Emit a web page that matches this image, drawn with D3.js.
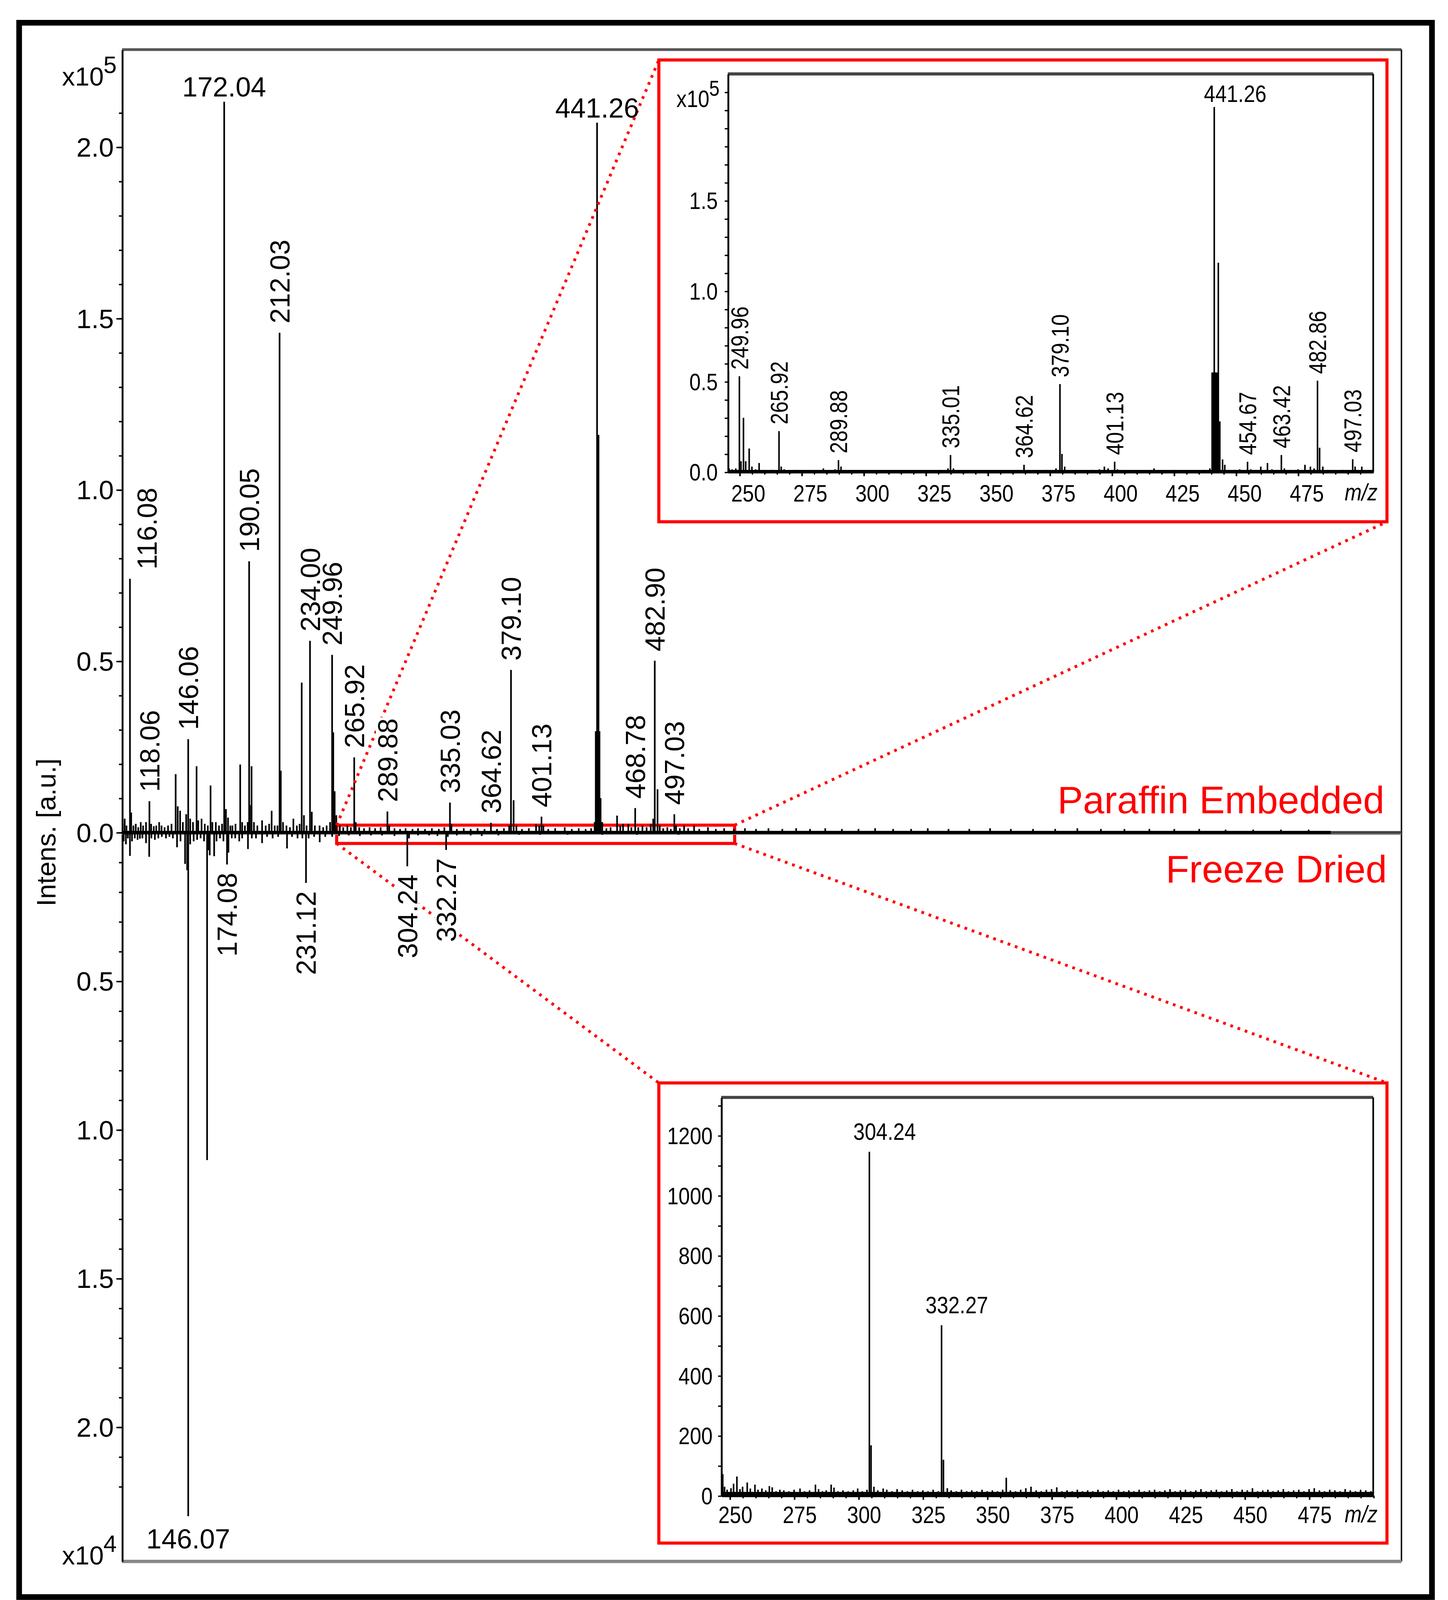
<!DOCTYPE html>
<html>
<head>
<meta charset="utf-8">
<script src="https://cdn.jsdelivr.net/npm/d3@7"></script>
<style>
  html, body { margin: 0; padding: 0; background: #fff; }
  svg { display: block; }
</style>
</head>
<body>
<svg id="fig"></svg>
<script>
// ---- data: main spectrum, paraffin embedded (intensity x10^5) ----
const paraffinPeaks = [
  [98.8,0.025],[100.2,0.04],[101.5,0.02],[104.0,0.74],[104.9,0.058],[106.5,0.02],[108.2,0.025],[110,0.015],
  [111.8,0.03],[113.5,0.02],[115.6,0.03],[118.06,0.091],[119.3,0.025],[121.2,0.018],[123,0.02],[125.1,0.03],
  [126.8,0.02],[129,0.015],[131.5,0.02],[134,0.025],[137.0,0.17],[138.5,0.076],[140.2,0.063],[142.2,0.03],
  [144.6,0.053],[146.06,0.272],[147.5,0.04],[149.5,0.03],[152.1,0.193],[153.3,0.035],[155.7,0.04],[158,0.025],
  [160.2,0.02],[162.2,0.137],[163.5,0.03],[166.0,0.03],[168.3,0.02],[170.5,0.025],[172.04,2.132],[173.3,0.068],
  [174.8,0.043],[176.5,0.02],[178.0,0.02],[180.2,0.025],[183.6,0.198],[185,0.03],[187,0.02],[189.0,0.03],
  [190.05,0.791],[190.6,0.08],[191.8,0.193],[193.5,0.03],[196,0.02],[199.4,0.035],[202,0.02],[204.5,0.025],
  [206.3,0.063],[208.5,0.02],[210.5,0.02],[212.03,1.458],[212.9,0.18],[214.5,0.03],[217,0.02],[219.5,0.015],
  [222.0,0.04],[224.5,0.02],[226.5,0.025],[228.0,0.437],[229.6,0.05],[231.5,0.02],[234.0,0.559],[235.3,0.06],
  [237.5,0.02],[240.9,0.02],[243.5,0.015],[246,0.02],[248.5,0.03],[249.96,0.518],[250.8,0.292],[251.8,0.12],
  [253,0.05],[255.5,0.02],[258,0.015],[261,0.02],[263.5,0.015],[265.92,0.219],[267.0,0.03],[269.5,0.015],
  [273,0.012],[277,0.015],[281,0.012],[285,0.015],[289.88,0.061],[291.2,0.02],[295,0.012],[299,0.01],
  [303,0.012],[308,0.01],[312,0.012],[317,0.01],[322,0.012],[327,0.01],[331,0.015],[335.03,0.087],
  [336.1,0.025],[340,0.01],[345,0.012],[350,0.01],[355,0.012],[360,0.01],[364.62,0.028],[369,0.01],
  [374,0.012],[377.8,0.02],[379.1,0.474],[381.0,0.094],[383,0.02],[387,0.01],[392,0.012],[397.2,0.025],
  [399.5,0.02],[401.13,0.046],[402.5,0.02],[406,0.01],[411,0.012],[417.9,0.015],[423,0.01],[428,0.012],
  [433,0.01],[437,0.012],[439.5,0.03],[440.3,0.295],[440.8,0.295],[441.26,2.071],[441.8,0.295],[442.3,1.16],
  [443.0,0.295],[443.8,0.1],[445,0.03],[448,0.012],[451,0.015],[455.7,0.049],[458,0.02],[460,0.025],
  [463.8,0.025],[466,0.015],[468.78,0.071],[471,0.015],[474,0.02],[477,0.015],[480,0.025],[481.8,0.04],
  [482.9,0.501],[484.9,0.126],[486.5,0.02],[489,0.012],[492,0.015],[494.5,0.01],[497.03,0.053],[498.3,0.02],
  [501,0.012],[504.1,0.02],[507,0.012],[511.3,0.02],[515,0.01],[521.3,0.015],[527,0.01],[533,0.012],
  [540,0.01],[548,0.012],[556,0.01],[565,0.012],[575,0.01],[585,0.012],[595,0.01],[606,0.012],
  [618,0.01],[630,0.01],[642,0.012],[655,0.01],[668,0.01],[680,0.012],[695,0.01],[710,0.01],
  [725,0.012],[740,0.01],[756,0.01],[772,0.01],[788,0.012],[805,0.01],[822,0.01],[840,0.01],
  [858,0.01],[876,0.01],[895,0.008],[915,0.008],[935,0.008],[955,0.008]
];
const paraffinLabels = [
  {t:'116.08', mz:116.08, v:0.74}, {t:'118.06', mz:118.06, v:0.091}, {t:'146.06', mz:146.06, v:0.272},
  {t:'172.04', mz:172.04, v:2.132, horiz:true}, {t:'190.05', mz:190.05, v:0.791}, {t:'212.03', mz:212.03, v:1.458},
  {t:'234.00', mz:234.00, v:0.559}, {t:'249.96', mz:249.96, v:0.518}, {t:'265.92', mz:265.92, v:0.219},
  {t:'289.88', mz:289.88, v:0.061}, {t:'335.03', mz:335.03, v:0.087}, {t:'364.62', mz:364.62, v:0.028},
  {t:'379.10', mz:379.10, v:0.474}, {t:'401.13', mz:401.13, v:0.046}, {t:'441.26', mz:441.26, v:2.071, horiz:true},
  {t:'468.78', mz:468.78, v:0.071}, {t:'482.90', mz:482.90, v:0.501}, {t:'497.03', mz:497.03, v:0.053}
];

// ---- data: main spectrum, freeze dried (intensity x10^4, drawn downwards) ----
const freezePeaks = [
  [99.5,0.03],[101.1,0.04],[102.5,0.02],[104.0,0.079],[105.5,0.03],[107.5,0.02],[109.5,0.025],[111.2,0.021],
  [113,0.02],[115.6,0.036],[117.9,0.082],[119.5,0.02],[122,0.025],[124.5,0.02],[127,0.015],[130,0.02],
  [132.5,0.015],[135,0.02],[138.0,0.05],[140.5,0.03],[143.8,0.106],[145.3,0.127],[146.07,2.30],[147.5,0.04],
  [150,0.03],[152.5,0.025],[155,0.02],[157.5,0.03],[159.7,1.102],[160.6,0.06],[161.6,0.077],[164.8,0.08],
  [166.5,0.03],[169,0.02],[171.5,0.03],[174.08,0.108],[175.1,0.068],[177.5,0.02],[180,0.02],[182.9,0.03],
  [185,0.02],[189.2,0.056],[192,0.02],[195,0.02],[199.4,0.036],[203,0.015],[207,0.02],[211,0.015],
  [217.4,0.054],[221,0.015],[225,0.02],[228.5,0.02],[231.12,0.17],[233,0.02],[237,0.015],[241,0.033],
  [245,0.015],[250,0.015],[255,0.012],[262,0.01],[270,0.012],[278,0.01],[286,0.01],[295,0.012],
  [304.24,0.114],[305.5,0.02],[312,0.01],[320,0.01],[326,0.012],[332.27,0.059],[333.5,0.015],[340,0.01],
  [350,0.01],[358,0.012],[370,0.01],[385,0.008],[400,0.008],[420,0.008],[445,0.008],[470,0.008],[500,0.008]
];
const freezeLabels = [
  {t:'146.07', mz:146.07, v:2.30, horiz:true}, {t:'174.08', mz:174.08, v:0.108},
  {t:'231.12', mz:231.12, v:0.17}, {t:'304.24', mz:304.24, v:0.114}, {t:'332.27', mz:332.27, v:0.059}
];

// ---- data: upper inset, paraffin embedded m/z 250-500 (x10^5) ----
const insetParaffinPeaks = [
  [245.8,0.02],[247,0.015],[248.5,0.02],[249.96,0.529],[250.6,0.06],[251.6,0.30],[252.5,0.06],[253.9,0.13],
  [255,0.03],[256.5,0.015],[257.9,0.05],[259.5,0.012],[261,0.01],[263,0.012],[265.92,0.226],[266.8,0.03],
  [268,0.015],[270,0.01],[272.5,0.012],[275,0.01],[278,0.01],[281,0.012],[283.8,0.02],[286,0.01],
  [288.5,0.015],[289.88,0.066],[290.9,0.03],[292.5,0.012],[296,0.008],[300,0.01],[304,0.008],[308,0.01],
  [312,0.008],[316,0.01],[320,0.008],[324,0.01],[328,0.008],[331,0.012],[334,0.02],[335.01,0.094],
  [336.2,0.02],[339,0.01],[343,0.008],[347,0.01],[351,0.008],[355,0.01],[359,0.008],[362,0.012],
  [364.62,0.04],[367,0.01],[370,0.008],[373.5,0.012],[377.5,0.02],[379.10,0.486],[379.9,0.10],[381,0.03],
  [384,0.008],[388,0.01],[392,0.012],[395,0.015],[397,0.03],[398.5,0.02],[401.13,0.057],[402.3,0.015],
  [405,0.01],[409,0.008],[413,0.01],[417,0.02],[421,0.01],[425,0.012],[429,0.008],[433,0.01],
  [437,0.012],[439.5,0.02],[440.4,0.55],[440.8,0.55],[441.26,2.017],[441.6,0.55],[442.0,0.55],[442.4,0.55],
  [442.9,1.157],[443.5,0.28],[444.6,0.07],[445.5,0.04],[447,0.012],[449.5,0.012],[451.5,0.015],[454.67,0.057],
  [456,0.015],[458,0.012],[460,0.03],[462.7,0.05],[464.5,0.015],[466.5,0.012],[468.3,0.094],[469.5,0.02],
  [472,0.012],[475,0.015],[477.8,0.04],[480,0.03],[481.5,0.02],[482.86,0.505],[483.7,0.134],[485,0.03],
  [487,0.012],[490,0.01],[493,0.012],[497.03,0.071],[498,0.03],[499.3,0.012],[500.7,0.03],[503,0.012]
];
const insetParaffinLabels = [
  {t:'249.96', mz:249.96, v:0.529}, {t:'265.92', mz:265.92, v:0.226}, {t:'289.88', mz:289.88, v:0.066},
  {t:'335.01', mz:335.01, v:0.094}, {t:'364.62', mz:364.62, v:0.04}, {t:'379.10', mz:379.10, v:0.486},
  {t:'401.13', mz:401.13, v:0.057}, {t:'441.26', mz:441.26, v:2.017, horiz:true},
  {t:'454.67', mz:454.67, v:0.057}, {t:'463.42', mz:468.3, v:0.094}, {t:'482.86', mz:482.86, v:0.505},
  {t:'497.03', mz:497.03, v:0.071}
];

// ---- data: lower inset, freeze dried m/z 250-500 (counts) ----
const insetFreezePeaks = [
  [247.3,72],[248,30],[249,20],[250.5,25],[251.5,40],[252.8,64],[254,22],[255,30],[256.8,44],[258,24],
  [259.8,37],[261,20],[262.5,24],[264,18],[265.4,32],[266.5,28],[268,15],[269.5,20],[271,18],[273,15],
  [275,20],[277.3,24],[279,15],[281,18],[283.3,37],[284.5,22],[286,15],[287.5,18],[289.4,37],[290.5,27],
  [292,15],[294,18],[296,15],[298,18],[299.7,24],[301.5,15],[303.3,20],[304.24,1146],[304.9,168],[306,30],
  [307.5,18],[309.6,24],[311,20],[313,15],[315,22],[317,18],[319,15],[321,20],[323,15],[325,18],
  [327,15],[329,20],[331,15],[332.27,568],[333.0,120],[334.5,25],[336,18],[338,15],[340,20],[342,15],
  [344,18],[346,15],[348,20],[350,15],[352,18],[354,15],[356,20],[357.4,60],[359,18],[361,15],
  [363,20],[365,25],[367,30],[369,18],[371,15],[373,20],[375,22],[377,28],[379,15],[381,18],
  [383,15],[385,20],[387,15],[389,18],[391,15],[393,20],[395,15],[397,18],[399,15],[401,20],
  [403,15],[405,18],[407,15],[409,20],[411,15],[413,18],[415,20],[417,15],[419,18],[421,22],
  [423,15],[425,18],[427,20],[429,15],[431,18],[433,22],[435,15],[437,18],[439,20],[441,15],
  [443,18],[445,22],[447,15],[449,20],[451,18],[453,25],[455,15],[457,18],[459,20],[461,15],
  [463,18],[465,22],[467,15],[469,18],[471,20],[473,15],[475,22],[477,25],[479,18],[481,15],
  [483,20],[485,18],[487,15],[489,22],[491,18],[493,15],[495,20],[497,18],[499,15]
];
const insetFreezeLabels = [
  {t:'304.24', mz:304.24, v:1146, horiz:true}, {t:'332.27', mz:332.27, v:568, horiz:true}
];

// ---- tick labels ----
const mainTopTicks = [0, 0.5, 1.0, 1.5, 2.0];
const mainBotTicks = [0.5, 1.0, 1.5, 2.0];
const insetTopYTicks = [0, 0.5, 1.0, 1.5];
const insetBotYTicks = [0, 200, 400, 600, 800, 1000, 1200];
const insetXTicks = [250, 275, 300, 325, 350, 375, 400, 425, 450, 475];

// ---- setup ----
const W = 1400, H = 1568.5;
const FONT = 'Liberation Sans, Arial, Helvetica, sans-serif';
const RED = '#ff0000';
const svg = d3.select('#fig')
  .attr('width', 3706).attr('height', 4152)
  .attr('viewBox', `0 0 ${W} ${H}`)
  .attr('font-family', FONT);
svg.append('rect').attr('width', W).attr('height', H).attr('fill', '#fff');

// main scales
const x = d3.scaleLinear().domain([98.3, 1022]).range([118, 1355]);
const yTop = d3.scaleLinear().domain([0, 2.284]).range([805, 48]);
const yBot = d3.scaleLinear().domain([0, 2.452]).range([805, 1510]);

// inset scales
const xT = d3.scaleLinear().domain([245.3, 505.3]).range([703.7, 1327.7]);
const yT = d3.scaleLinear().domain([0, 2.2]).range([456.5, 71.5]);
const xB = d3.scaleLinear().domain([246.7, 499.9]).range([697.3, 1327.7]);
const yB = d3.scaleLinear().domain([0, 1327]).range([1446.5, 1061.3]);

function sticks(g, data, xs, ys, w) {
  g.selectAll(null).data(data).join('line')
    .attr('x1', d => xs(d[0])).attr('x2', d => xs(d[0]))
    .attr('y1', ys(0)).attr('y2', d => ys(d[1]))
    .attr('stroke', '#000').attr('stroke-width', w);
}

function styleAxis(g, w) {
  g.selectAll('line').attr('stroke', '#000').attr('stroke-width', w);
  g.selectAll('path').attr('stroke', '#000').attr('stroke-width', 1.8);
  g.selectAll('text').remove();
}

// rotated peak label, with white backing so dotted lines break behind it
function rotLabel(g, d, xs, ys, o) {
  const gy = o.above ? ys(d.v) - o.gap : ys(d.v) + o.gap;
  const lg = g.append('g')
    .attr('transform', `translate(${xs(d.mz)},${gy}) rotate(-90) scale(${o.sx},1)`);
  const r = lg.append('rect').attr('fill', '#fff');
  const t = lg.append('text')
    .attr('text-anchor', o.above ? 'start' : 'end')
    .attr('dy', '0.358em').attr('font-size', o.size).text(d.t);
  const len = t.node().getComputedTextLength();
  r.attr('x', o.above ? -1 : -len - 1).attr('y', -0.42 * o.size)
    .attr('width', len + 2).attr('height', 0.84 * o.size);
}

// ================= main plot =================
const main = svg.append('g');

// red zoom box on the main spectrum (under the peaks)
main.append('rect').attr('x', 325.5).attr('y', 798).attr('width', 384.8).attr('height', 17.7)
  .attr('fill', 'none').attr('stroke', RED).attr('stroke-width', 3);

// frame
main.append('line').attr('x1', 118).attr('x2', 1355).attr('y1', 48).attr('y2', 48)
  .attr('stroke', '#555').attr('stroke-width', 2.6);
main.append('line').attr('x1', 1355).attr('x2', 1355).attr('y1', 48).attr('y2', 1510)
  .attr('stroke', '#000').attr('stroke-width', 1.4);
main.append('line').attr('x1', 118).attr('x2', 1355).attr('y1', 1510).attr('y2', 1510)
  .attr('stroke', '#888').attr('stroke-width', 3.2);

// y axes
const axTop = main.append('g').attr('transform', 'translate(118,0)')
  .call(d3.axisLeft(yTop).tickValues(d3.range(0, 22).map(i => i / 10)).tickSize(3).tickSizeOuter(0).tickFormat(''));
styleAxis(axTop, 1.4);
const axTopMaj = main.append('g').attr('transform', 'translate(118,0)')
  .call(d3.axisLeft(yTop).tickValues(mainTopTicks).tickSize(5.5).tickSizeOuter(0).tickFormat(''));
styleAxis(axTopMaj, 1.4);
axTopMaj.select('.domain').remove();
const axBot = main.append('g').attr('transform', 'translate(118,0)')
  .call(d3.axisLeft(yBot).tickValues(d3.range(1, 23).map(i => i / 10)).tickSize(3).tickSizeOuter(0).tickFormat(''));
styleAxis(axBot, 1.4);
const axBotMaj = main.append('g').attr('transform', 'translate(118,0)')
  .call(d3.axisLeft(yBot).tickValues(mainBotTicks).tickSize(5.5).tickSizeOuter(0).tickFormat(''));
styleAxis(axBotMaj, 1.4);
axBotMaj.select('.domain').remove();

const f1 = d3.format('.1f');
main.selectAll(null).data(mainTopTicks).join('text')
  .attr('x', 110).attr('y', d => yTop(d)).attr('dy', '0.36em')
  .attr('text-anchor', 'end').attr('font-size', 26).text(f1);
main.selectAll(null).data(mainBotTicks).join('text')
  .attr('x', 110).attr('y', d => yBot(d)).attr('dy', '0.36em')
  .attr('text-anchor', 'end').attr('font-size', 26).text(f1);

// exponents
function expo(g, xx, base, sup, size, supSize, sx) {
  g.append('text').attr('transform', `translate(${xx},${base}) scale(${sx},1)`)
    .attr('font-size', size).text('x10');
  g.append('text').attr('transform', `translate(${xx + 40 * sx * size / 25},${base - 12 * size / 25}) scale(${sx},1)`)
    .attr('font-size', supSize).text(sup);
}
expo(main, 60, 82.7, '5', 25, 23, 1);
expo(main, 60, 1513, '4', 25, 23, 1);

main.append('text').attr('transform', 'translate(53.5,805) rotate(-90)')
  .attr('text-anchor', 'middle').attr('font-size', 26).text('Intens. [a.u.]');

// zero axis + spectrum baselines
main.append('line').attr('x1', 118).attr('x2', 1355).attr('y1', 806.8).attr('y2', 806.8)
  .attr('stroke', '#888').attr('stroke-width', 1.2);
main.append('line').attr('x1', x(971)).attr('x2', 1355).attr('y1', 805).attr('y2', 805)
  .attr('stroke', '#444').attr('stroke-width', 2.6);
main.append('line').attr('x1', x(98.3)).attr('x2', x(971)).attr('y1', 805).attr('y2', 805)
  .attr('stroke', '#000').attr('stroke-width', 3);

sticks(main.append('g'), paraffinPeaks, x, yTop, 1.6);
sticks(main.append('g'), freezePeaks, x, yBot, 1.6);

// dotted connectors to the insets
const conn = [
  [325.5, 798, 637, 58], [710.3, 798, 1341, 504.6],
  [325.5, 815.7, 637, 1047.3], [710.3, 815.7, 1341, 1047.3]
];
svg.selectAll(null).data(conn).join('line')
  .attr('x1', d => d[0]).attr('y1', d => d[1]).attr('x2', d => d[2]).attr('y2', d => d[3])
  .attr('stroke', RED).attr('stroke-width', 2.8).attr('stroke-dasharray', '2.6 4.8');

// peak labels
const labG = svg.append('g');
paraffinLabels.forEach(d => {
  if (d.horiz) {
    labG.append('text').attr('x', x(d.mz)).attr('y', yTop(d.v) - 5)
      .attr('text-anchor', 'middle').attr('font-size', 26.5).text(d.t);
  } else {
    rotLabel(labG, d, x, yTop, {above: true, gap: 9, size: 26.5, sx: 1});
  }
});
freezeLabels.forEach(d => {
  if (d.horiz) {
    labG.append('text').attr('x', x(d.mz)).attr('y', yBot(d.v) + 31)
      .attr('text-anchor', 'middle').attr('font-size', 26.5).text(d.t);
  } else {
    rotLabel(labG, d, x, yBot, {above: false, gap: 8, size: 26.5, sx: 1});
  }
});

// ================= insets =================
const SX = 0.86, IFS = 23;

function inset(o) {
  const g = svg.append('g');
  g.append('rect').attr('x', 637).attr('y', o.boxY).attr('width', 704).attr('height', o.boxH)
    .attr('fill', '#fff').attr('stroke', RED).attr('stroke-width', 3);
  const [x0, x1] = o.xs.range();
  const [yb, yt] = o.ys.range();
  g.append('line').attr('x1', x0).attr('x2', x1).attr('y1', yt).attr('y2', yt)
    .attr('stroke', '#444').attr('stroke-width', 3);
  g.append('line').attr('x1', x1).attr('x2', x1).attr('y1', yt).attr('y2', yb)
    .attr('stroke', '#000').attr('stroke-width', 1.6);

  const ay = g.append('g').attr('transform', `translate(${x0},0)`)
    .call(d3.axisLeft(o.ys).tickValues(o.yMinor).tickSize(3).tickSizeOuter(0).tickFormat(''));
  styleAxis(ay, 1.3);
  const ax = g.append('g').attr('transform', `translate(0,${yb})`)
    .call(d3.axisBottom(o.xs).tickValues(d3.range(250, 501, 5)).tickSize(2.5).tickSizeOuter(0).tickFormat(''));
  styleAxis(ax, 1.3);
  const axm = g.append('g').attr('transform', `translate(0,${yb})`)
    .call(d3.axisBottom(o.xs).tickValues(insetXTicks).tickSize(4).tickSizeOuter(0).tickFormat(''));
  styleAxis(axm, 1.5);
  axm.select('.domain').remove();

  g.selectAll(null).data(o.yTicks).join('text')
    .attr('transform', d => `translate(${o.yLabX},${o.ys(d)}) scale(${SX},1)`)
    .attr('dy', '0.36em').attr('text-anchor', 'end').attr('font-size', IFS).text(o.yFmt);
  g.selectAll(null).data(insetXTicks).join('text')
    .attr('transform', d => `translate(${o.xs(d) + o.xLabDx},${o.xLabY}) scale(${SX},1)`)
    .attr('text-anchor', 'middle').attr('font-size', IFS).text(d => d);
  g.append('text').attr('transform', `translate(1316,${o.xLabY - 1}) scale(${SX},1)`)
    .attr('text-anchor', 'middle').attr('font-size', IFS).attr('font-style', 'italic').text('m/z');

  g.append('line').attr('x1', x0).attr('x2', x1).attr('y1', yb - o.baseLift).attr('y2', yb - o.baseLift)
    .attr('stroke', '#000').attr('stroke-width', o.baseW);
  sticks(g.append('g'), o.peaks, o.xs, o.ys, 1.5);

  o.labels.forEach(d => {
    if (d.horiz) {
      g.append('text').attr('transform', `translate(${o.xs(d.mz) + o.hDx},${o.ys(d.v) - o.hGap}) scale(${SX},1)`)
        .attr('font-size', IFS).text(d.t);
    } else {
      rotLabel(g, d, o.xs, o.ys, {above: true, gap: 6.5, size: 23.5, sx: 0.85});
    }
  });
  return g;
}

const topInset = inset({
  boxY: 58, boxH: 446.6, xs: xT, ys: yT,
  yMinor: d3.range(0, 22).map(i => i / 10), yTicks: insetTopYTicks, yFmt: f1, yLabX: 694,
  xLabDx: 8.5, xLabY: 485, peaks: insetParaffinPeaks, labels: insetParaffinLabels,
  hDx: -10, hGap: 5, baseW: 3, baseLift: 0.5
});
expo(topInset, 654, 103.6, '5', IFS, 21, SX);

inset({
  boxY: 1047.3, boxH: 445, xs: xB, ys: yB,
  yMinor: d3.range(0, 1301, 100), yTicks: insetBotYTicks, yFmt: d => d, yLabX: 689,
  xLabDx: 5.5, xLabY: 1473, peaks: insetFreezePeaks, labels: insetFreezeLabels,
  hDx: -15.5, hGap: 11.5, baseW: 4.5, baseLift: 1.5
});

// ================= annotations =================
svg.append('text').attr('x', 1338.5).attr('y', 786.4).attr('text-anchor', 'end')
  .attr('font-size', 37).attr('fill', RED).text('Paraffin Embedded');
svg.append('text').attr('x', 1341).attr('y', 853.4).attr('text-anchor', 'end')
  .attr('font-size', 37).attr('fill', RED).text('Freeze Dried');

// outer border
svg.append('rect').attr('x', 18.5).attr('y', 22).attr('width', 1366).attr('height', 1522.5)
  .attr('fill', 'none').attr('stroke', '#000').attr('stroke-width', 5.5);
</script>
</body>
</html>
